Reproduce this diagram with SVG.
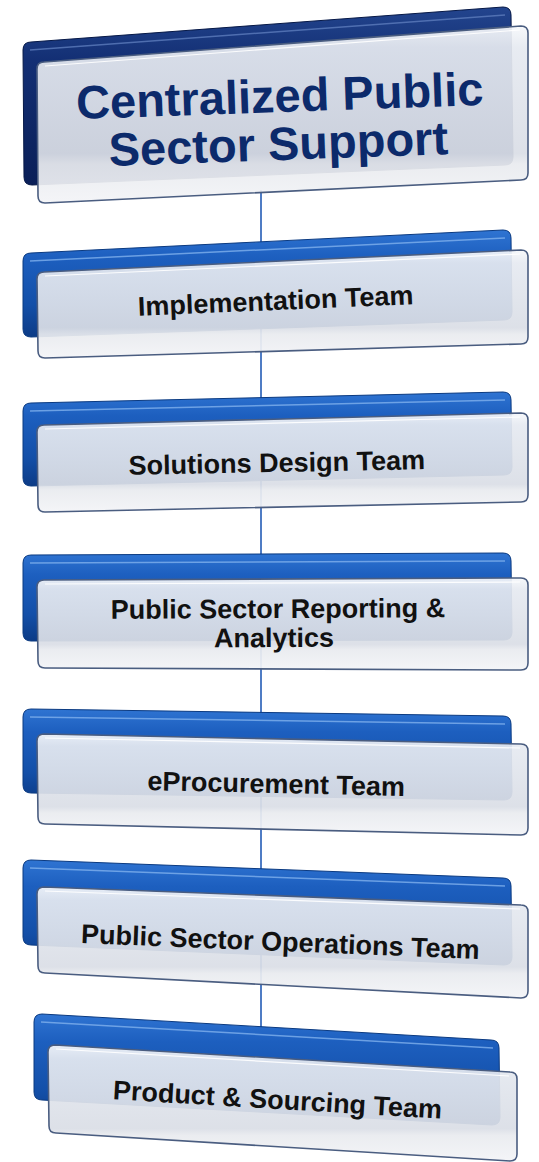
<svg xmlns="http://www.w3.org/2000/svg" width="539" height="1162" viewBox="0 0 539 1162">
<defs>
<linearGradient id="gBack" x1="0" y1="0" x2="0" y2="1">
<stop offset="0" stop-color="#2f74d2"/>
<stop offset="0.25" stop-color="#1d5fbf"/>
<stop offset="0.7" stop-color="#134fa8"/>
<stop offset="1" stop-color="#0c3b86"/>
</linearGradient>
<linearGradient id="gBackDark" x1="0" y1="0" x2="0" y2="1">
<stop offset="0" stop-color="#23458e"/>
<stop offset="0.3" stop-color="#132f74"/>
<stop offset="1" stop-color="#0a1f58"/>
</linearGradient>
<linearGradient id="gFront" x1="0" y1="0" x2="0" y2="1">
<stop offset="0" stop-color="#f6f8fb"/>
<stop offset="0.12" stop-color="#e6eaf1"/>
<stop offset="0.72" stop-color="#dadee6"/>
<stop offset="0.78" stop-color="#e9ebef"/>
<stop offset="1" stop-color="#f3f4f7"/>
</linearGradient>
<style>
.back{fill:url(#gBack);stroke:#0b3a80;stroke-width:1}
.backd{fill:url(#gBackDark);stroke:#061846;stroke-width:1}
.bev{fill:none;stroke:#7fb0ec;stroke-width:1.5;opacity:0.8}
.bevd{fill:none;stroke:#5d7cbc;stroke-width:1.5;opacity:0.8}
.front{fill:url(#gFront);fill-opacity:0.93;stroke:#4a5d80;stroke-width:1.6}
.shine{fill:none;stroke:#ffffff;stroke-width:1.2;opacity:0.9}
.t{font-family:"Liberation Sans",Arial,sans-serif;font-weight:bold;font-size:27px;fill:#111111;text-anchor:middle}
.tt{font-family:"Liberation Sans",Arial,sans-serif;font-weight:bold;font-size:47px;fill:#0c2a6b;text-anchor:middle}
.conn{stroke:#4f7cc4;stroke-width:2;fill:none}
</style>
</defs>
<rect width="539" height="1162" fill="#ffffff"/>
<g id="connectors">
<line class="conn" x1="261" y1="190" x2="261" y2="1030"/>
</g>
<g id="node-title">
<path class="backd" d="M31,42 L503,7 Q511,7 511,15 L513,157 Q513,165 505,165 L32,185 Q24,185 24,177 L23,50 Q23,42 31,42 Z"/>
<polyline class="bevd" points="30,50 505,15"/>
<path class="front" d="M44,62 L521,26 Q528,26 528,33 L528,173 Q528,180 521,180 L45,203 Q38,203 38,196 L37,69 Q37,62 44,62 Z"/>
<polyline class="shine" points="45,66 520,30"/>
<g transform="rotate(-2 280 134)">
<text class="tt" x="281" y="112">Centralized Public</text>
<text class="tt" x="278" y="160">Sector Support</text>
</g>
</g>
<g id="node-implementation">
<path class="back" d="M31,253 L503,230 Q511,230 511,238 L512,312 Q512,320 504,320 L31,337 Q23,337 23,329 L23,261 Q23,253 31,253 Z"/>
<polyline class="bev" points="30,261 505,238"/>
<path class="front" d="M44,272 L521,250 Q528,250 528,257 L528,337 Q528,344 521,344 L45,358 Q38,358 38,351 L37,279 Q37,272 44,272 Z"/>
<polyline class="shine" points="45,276 520,254"/>
<text class="t" x="276" y="310" transform="rotate(-2.4 276 310)">Implementation Team</text>
</g>
<g id="node-solutions">
<path class="back" d="M31,403 L503,392 Q511,392 511,400 L512,467 Q512,475 504,475 L31,486 Q23,486 23,478 L23,411 Q23,403 31,403 Z"/>
<polyline class="bev" points="30,411 505,400"/>
<path class="front" d="M44,425 L521,413 Q528,413 528,420 L528,495 Q528,502 521,502 L45,512 Q38,512 38,505 L37,432 Q37,425 44,425 Z"/>
<polyline class="shine" points="45,429 520,417"/>
<text class="t" x="277" y="472" transform="rotate(-1.1 277 472)">Solutions Design Team</text>
</g>
<g id="node-reporting">
<path class="back" d="M31,555 L503,553 Q511,553 511,561 L512,632 Q512,640 504,640 L31,641 Q23,641 23,633 L23,563 Q23,555 31,555 Z"/>
<polyline class="bev" points="30,563 505,561"/>
<path class="front" d="M44,580 L521,578 Q528,578 528,585 L528,663 Q528,670 521,670 L45,668 Q38,668 38,661 L37,587 Q37,580 44,580 Z"/>
<polyline class="shine" points="45,584 520,582"/>
<g transform="rotate(-0.3 277 632)">
<text class="t" x="278" y="618">Public Sector Reporting &amp;</text>
<text class="t" x="274" y="647">Analytics</text>
</g>
</g>
<g id="node-eprocurement">
<path class="back" d="M31,709 L503,716 Q511,716 511,724 L512,792 Q512,800 504,800 L31,793 Q23,793 23,785 L23,717 Q23,709 31,709 Z"/>
<polyline class="bev" points="30,717 505,724"/>
<path class="front" d="M44,734 L521,744 Q528,744 528,751 L528,828 Q528,835 521,835 L45,824 Q38,824 38,817 L37,741 Q37,734 44,734 Z"/>
<polyline class="shine" points="45,738 520,748"/>
<text class="t" x="276" y="793" transform="rotate(1.3 276 793)">eProcurement Team</text>
</g>
<g id="node-operations">
<path class="back" d="M31,860 L503,878 Q511,878 511,886 L512,957 Q512,965 504,965 L31,945 Q23,945 23,937 L23,868 Q23,860 31,860 Z"/>
<polyline class="bev" points="30,868 505,886"/>
<path class="front" d="M44,887 L521,905 Q528,905 528,912 L528,991 Q528,998 521,998 L45,973 Q38,973 38,966 L37,894 Q37,887 44,887 Z"/>
<polyline class="shine" points="45,891 520,909"/>
<text class="t" x="280" y="951" transform="rotate(2.3 280 951)">Public Sector Operations Team</text>
</g>
<g id="node-product">
<path class="back" d="M42,1014 L491,1040 Q499,1040 499,1048 L500,1117 Q500,1125 492,1125 L42,1100 Q34,1100 34,1092 L34,1022 Q34,1014 42,1014 Z"/>
<polyline class="bev" points="41,1022 493,1048"/>
<path class="front" d="M55,1045 L510,1072 Q517,1072 517,1079 L517,1154 Q517,1161 510,1161 L56,1133 Q49,1133 49,1126 L48,1052 Q48,1045 55,1045 Z"/>
<polyline class="shine" points="56,1049 509,1076"/>
<text class="t" x="277" y="1109" transform="rotate(3.4 277 1109)">Product &amp; Sourcing Team</text>
</g>
</svg>
